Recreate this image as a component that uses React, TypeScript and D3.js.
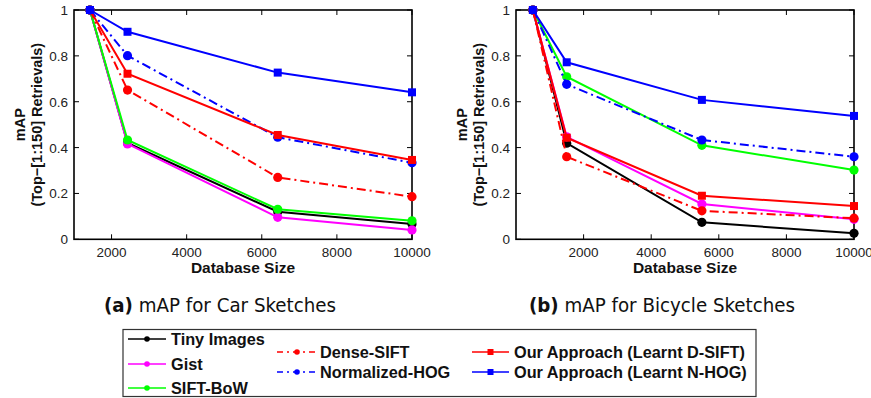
import React from "react";
import * as d3 from "d3";

// ---- data ----
const carSizes = [1425, 2425, 6425, 10000];
const bikeSizes = [500, 1500, 5500, 10000];

const carTiny = [1, 0.42, 0.12, 0.067];
const carGist = [1, 0.416, 0.096, 0.041];
const carSiftBow = [1, 0.433, 0.131, 0.081];
const carDenseSift = [1, 0.651, 0.27, 0.186];
const carNormHog = [1, 0.801, 0.445, 0.334];
const carLearntDSift = [1, 0.722, 0.455, 0.346];
const carLearntNHog = [1, 0.905, 0.727, 0.641];

const bikeTiny = [1, 0.419, 0.074, 0.026];
const bikeGist = [1, 0.447, 0.154, 0.087];
const bikeSiftBow = [1, 0.709, 0.41, 0.302];
const bikeDenseSift = [1, 0.36, 0.124, 0.092];
const bikeNormHog = [1, 0.676, 0.433, 0.36];
const bikeLearntDSift = [1, 0.443, 0.19, 0.145];
const bikeLearntNHog = [1, 0.772, 0.608, 0.538];

const seriesNames = [
  "Tiny Images",
  "Gist",
  "SIFT-BoW",
  "Dense-SIFT",
  "Normalized-HOG",
  "Our Approach (Learnt D-SIFT)",
  "Our Approach (Learnt N-HOG)",
];
const xTicks = [2000, 4000, 6000, 8000, 10000];
const yTicks = [0, 0.2, 0.4, 0.6, 0.8, 1];

type Style = { color: string; dash: string | null; marker: "circle" | "square"; legendMarker: "dot" | "square" };
const styles: Style[] = [
  { color: "#000000", dash: null, marker: "circle", legendMarker: "dot" },
  { color: "#ff00ff", dash: null, marker: "circle", legendMarker: "dot" },
  { color: "#00ff00", dash: null, marker: "circle", legendMarker: "dot" },
  { color: "#ff0000", dash: "9,4,2,4", marker: "circle", legendMarker: "dot" },
  { color: "#0000ff", dash: "9,4,2,4", marker: "circle", legendMarker: "dot" },
  { color: "#ff0000", dash: null, marker: "square", legendMarker: "square" },
  { color: "#0000ff", dash: null, marker: "square", legendMarker: "square" },
];

const carSeries = [carTiny, carGist, carSiftBow, carDenseSift, carNormHog, carLearntDSift, carLearntNHog];
const bikeSeries = [bikeTiny, bikeGist, bikeSiftBow, bikeDenseSift, bikeNormHog, bikeLearntDSift, bikeLearntNHog];

const FONT = "'Liberation Sans', Arial, Helvetica, sans-serif";

function Panel(props: {
  sizes: number[];
  series: number[][];
  xDomain: [number, number];
  left: number;
  right: number;
  labelX1: number;
  labelX2: number;
}) {
  const { sizes, series, xDomain, left, right, labelX1, labelX2 } = props;
  const top = 10;
  const bottom = 239.3;
  const x = d3.scaleLinear().domain(xDomain).range([left, right]);
  const y = d3.scaleLinear().domain([0, 1]).range([bottom, top]);
  const line = d3
    .line<number>()
    .x((_, i) => x(sizes[i]))
    .y((d) => y(d));
  const tl = 5;
  return (
    <g>
      <rect x={left} y={top} width={right - left} height={bottom - top} fill="none" stroke="#000" strokeWidth={1.6} />
      {xTicks.map((t) => (
        <g key={"x" + t}>
          <line x1={x(t)} x2={x(t)} y1={bottom} y2={bottom - tl} stroke="#000" strokeWidth={1} />
          <line x1={x(t)} x2={x(t)} y1={top} y2={top + tl} stroke="#000" strokeWidth={1} />
          <text x={x(t)} y={257} textAnchor="middle" fontFamily={FONT} fontSize={13.5} fill="#222">
            {t}
          </text>
        </g>
      ))}
      {yTicks.map((t) => (
        <g key={"y" + t}>
          <line x1={left} x2={left + tl} y1={y(t)} y2={y(t)} stroke="#000" strokeWidth={1} />
          <line x1={right} x2={right - tl} y1={y(t)} y2={y(t)} stroke="#000" strokeWidth={1} />
          <text x={left - 6} y={y(t) + 5} textAnchor="end" fontFamily={FONT} fontSize={13.5} fill="#222">
            {t}
          </text>
        </g>
      ))}
      <text x={(left + right) / 2} y={273} textAnchor="middle" fontFamily={FONT} fontSize={15.5} fontWeight="bold" fill="#111">
        Database Size
      </text>
      <text
        transform={`translate(${labelX1},${(top + bottom) / 2}) rotate(-90)`}
        textAnchor="middle"
        fontFamily={FONT}
        fontSize={14.5}
        fontWeight="bold"
        fill="#111"
      >
        mAP
      </text>
      <text
        transform={`translate(${labelX2},${(top + bottom) / 2}) rotate(-90)`}
        textAnchor="middle"
        fontFamily={FONT}
        fontSize={14.5}
        fontWeight="bold"
        fill="#111"
      >
        (Top−[1:150] Retrievals)
      </text>
      {series.map((vals, si) => {
        const st = styles[si];
        return (
          <g key={si}>
            <path
              d={line(vals) || ""}
              fill="none"
              stroke={st.color}
              strokeWidth={2}
              strokeDasharray={st.dash || undefined}
            />
            {vals.map((v, i) =>
              st.marker === "circle" ? (
                <circle key={i} cx={x(sizes[i])} cy={y(v)} r={4.6} fill={st.color} />
              ) : (
                <rect key={i} x={x(sizes[i]) - 4} y={y(v) - 4} width={8} height={8} fill={st.color} />
              )
            )}
          </g>
        );
      })}
    </g>
  );
}

function Legend() {
  const cols = [
    { lx1: 128, lx2: 166, tx: 171, idx: [0, 1, 2], ys: [339, 364, 388] },
    { lx1: 277, lx2: 317, tx: 320, idx: [3, 4], ys: [352, 372] },
    { lx1: 472, lx2: 509, tx: 514, idx: [5, 6], ys: [352, 372] },
  ];
  return (
    <g>
      <rect x={123} y={329.5} width={633} height={67} fill="#fff" stroke="#333" strokeWidth={1.2} />
      {cols.map((c, ci) =>
        c.idx.map((si, k) => {
          const st = styles[si];
          const yy = c.ys[k];
          const mx = (c.lx1 + c.lx2) / 2;
          return (
            <g key={ci + "-" + k}>
              <line
                x1={c.lx1}
                x2={c.lx2}
                y1={yy}
                y2={yy}
                stroke={st.color}
                strokeWidth={1.3}
                strokeDasharray={st.dash ? "6,4,2,4" : undefined}
              />
              {st.legendMarker === "dot" ? (
                <circle cx={mx} cy={yy} r={2.8} fill={st.color} />
              ) : (
                <rect x={mx - 3} y={yy - 3} width={6} height={6} fill={st.color} />
              )}
              <text x={c.tx} y={yy + 5.8} fontFamily={FONT} fontSize={16.3} fontWeight="bold" fill="#111">
                {seriesNames[si]}
              </text>
            </g>
          );
        })
      )}
    </g>
  );
}

const CAPFONT = "'DejaVu Sans', sans-serif";

export default function App() {
  return (
    <svg
      width={871}
      height={398}
      style={{ position: "absolute", left: 0, top: 0, background: "#fff" }}
      xmlns="http://www.w3.org/2000/svg"
    >
      <rect x={0} y={0} width={871} height={398} fill="#fff" />
      <Panel
        sizes={carSizes}
        series={carSeries}
        xDomain={[1000, 10000]}
        left={74}
        right={412}
        labelX1={25}
        labelX2={42}
      />
      <Panel
        sizes={bikeSizes}
        series={bikeSeries}
        xDomain={[0, 10000]}
        left={516}
        right={854}
        labelX1={467}
        labelX2={484}
      />
      <text x={220} y={312} textAnchor="middle" fontFamily={CAPFONT} fontSize={20.3} fill="#111" style={{ fontStretch: "condensed" }}>
        <tspan fontWeight="bold">(a)</tspan> mAP for Car Sketches
      </text>
      <text x={662} y={312} textAnchor="middle" fontFamily={CAPFONT} fontSize={20.3} fill="#111" style={{ fontStretch: "condensed" }}>
        <tspan fontWeight="bold">(b)</tspan> mAP for Bicycle Sketches
      </text>
      <Legend />
    </svg>
  );
}
